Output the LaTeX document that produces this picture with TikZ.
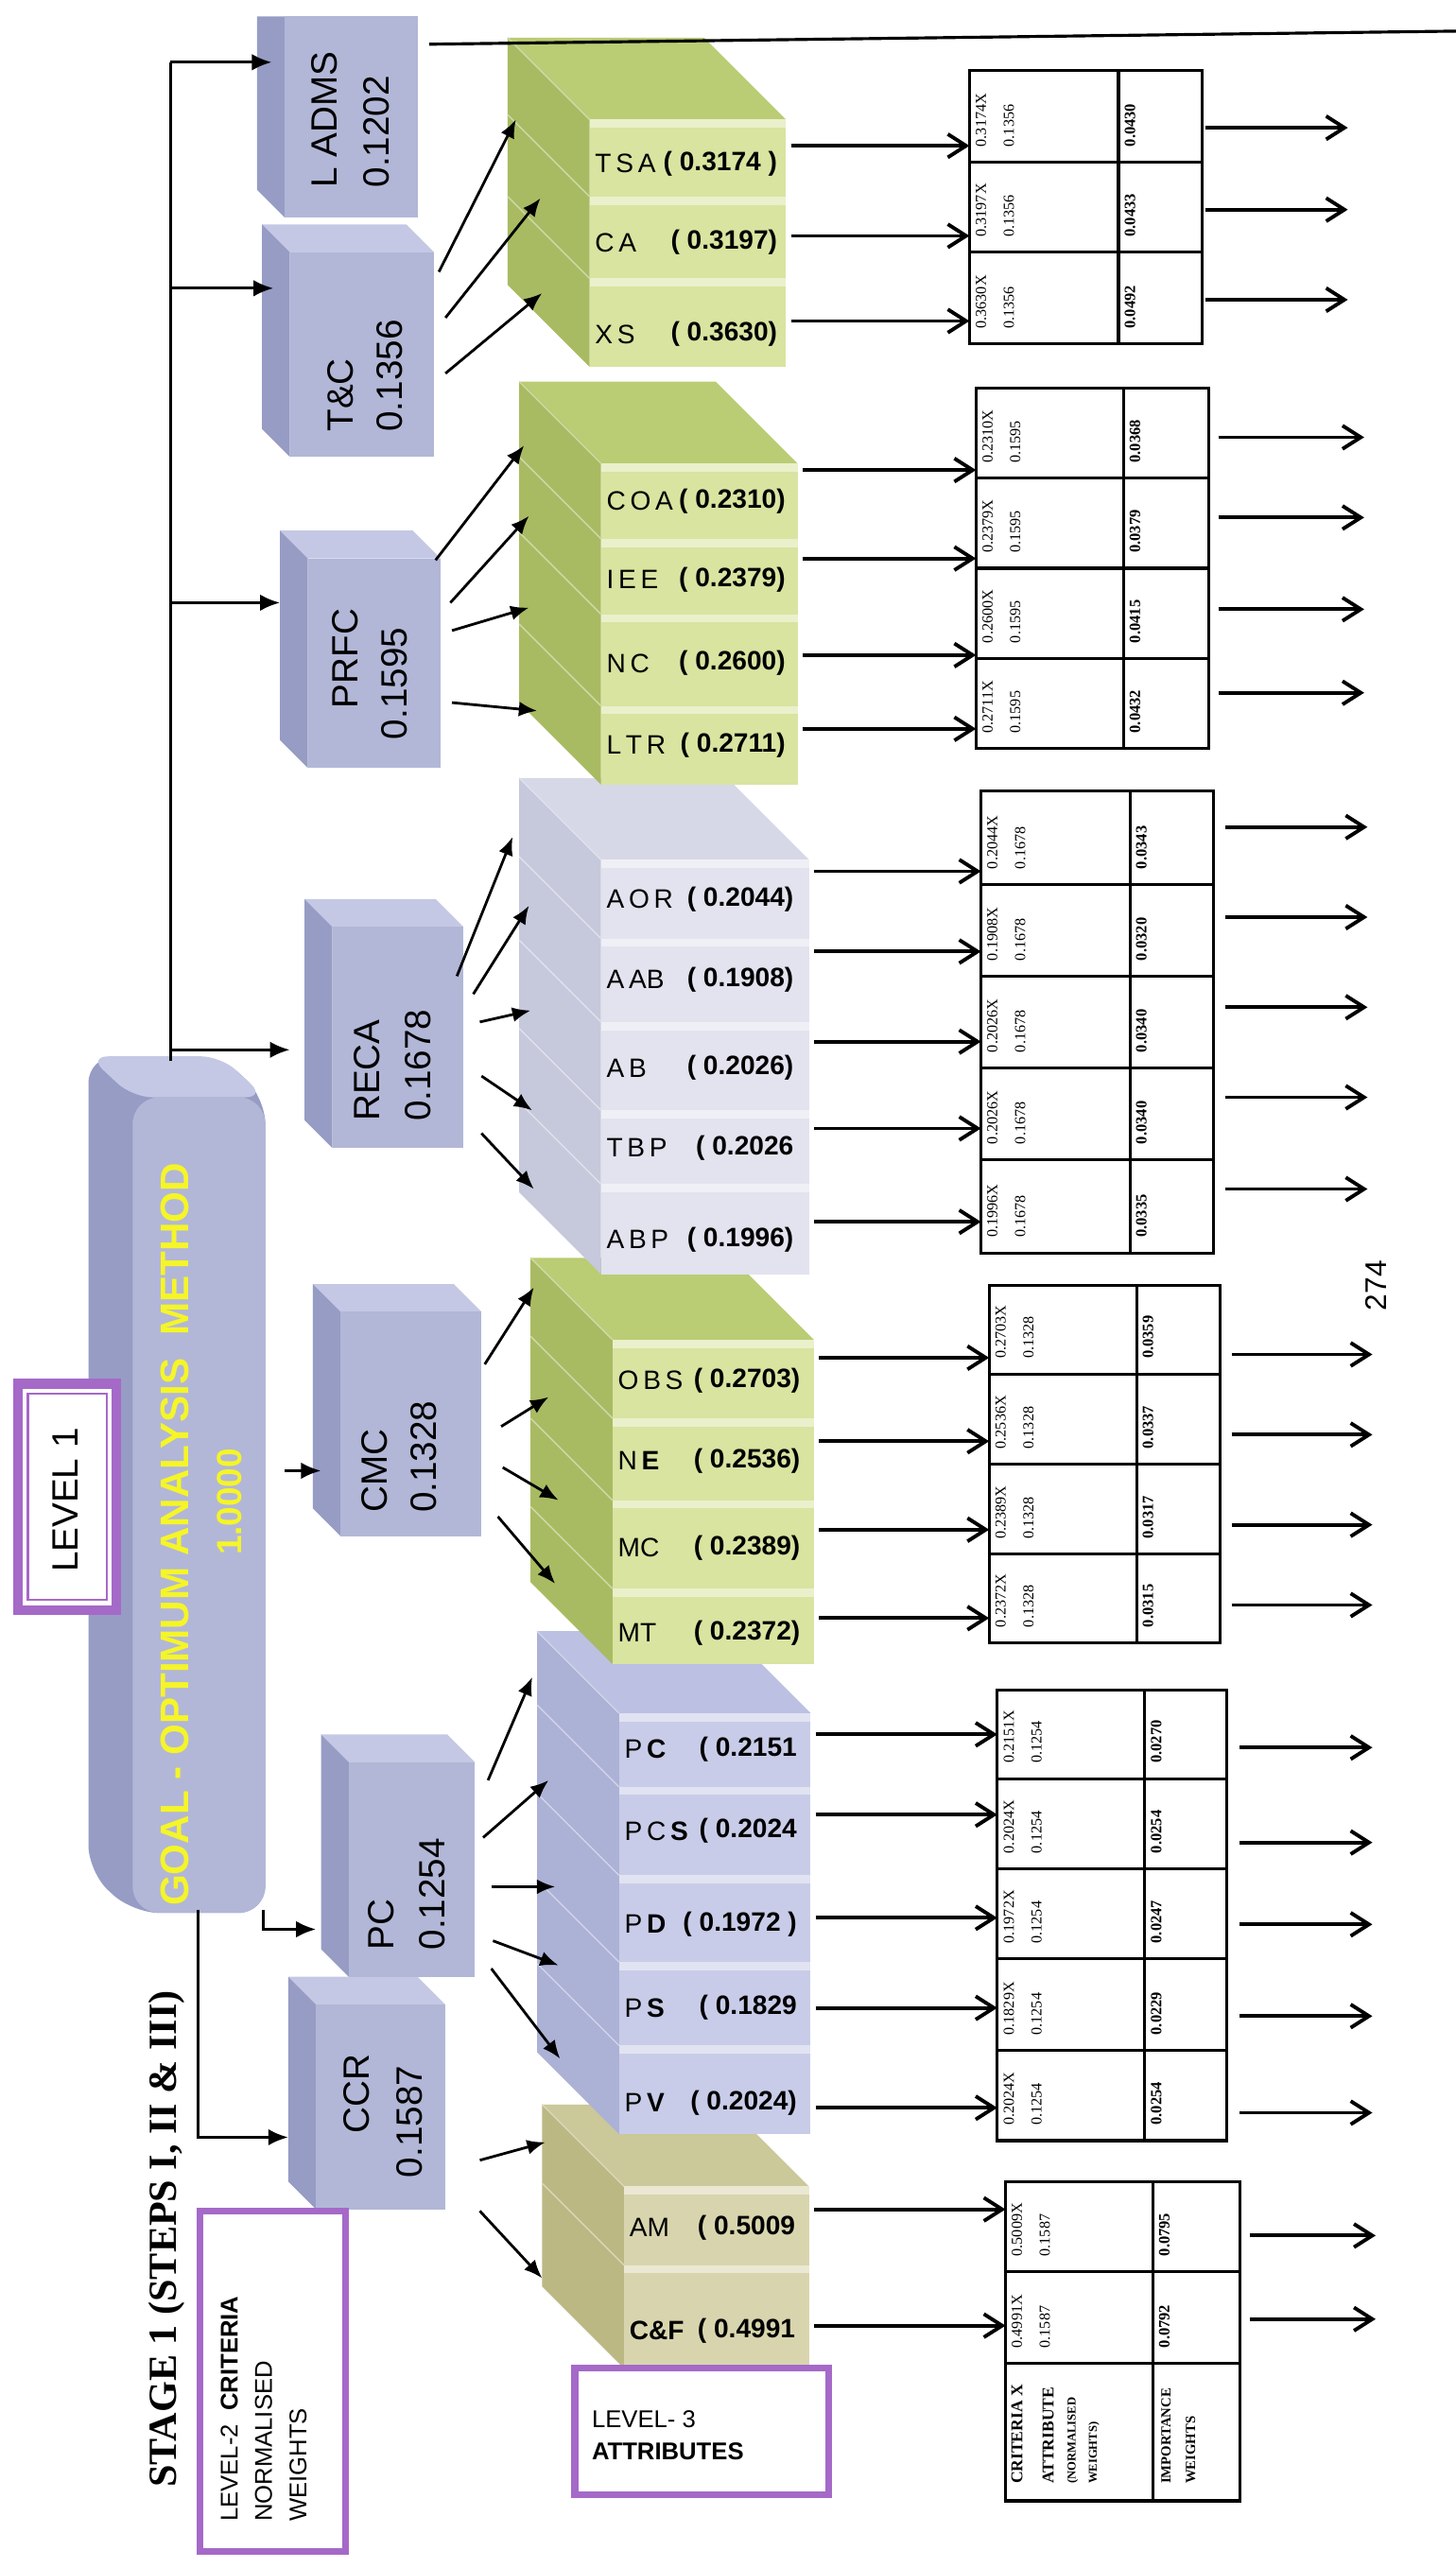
\documentclass[tikz,border=0pt]{standalone}
\usepackage{fontspec}
\setmainfont{Liberation Serif}
\newfontfamily\arial{Liberation Sans}
\usetikzlibrary{arrows.meta}
\definecolor{lvF}{RGB}{178,183,215}
\definecolor{lvS}{RGB}{150,156,196}
\definecolor{lvT}{RGB}{196,200,228}
\definecolor{grF}{RGB}{216,228,160}
\definecolor{grS}{RGB}{168,187,98}
\definecolor{grT}{RGB}{186,204,116}
\definecolor{rcF}{RGB}{226,227,239}
\definecolor{rcS}{RGB}{198,200,219}
\definecolor{rcT}{RGB}{214,216,231}
\definecolor{pcF}{RGB}{200,204,232}
\definecolor{pcS}{RGB}{172,177,214}
\definecolor{pcT}{RGB}{188,192,226}
\definecolor{khF}{RGB}{216,213,174}
\definecolor{khS}{RGB}{188,184,132}
\definecolor{khT}{RGB}{203,200,153}
\definecolor{legend}{RGB}{165,105,200}
\definecolor{goaltxt}{RGB}{245,245,40}
\newcommand{\myfs}[2]{\fontsize{#1}{#2}\selectfont}
% top face of a stack: xl xr yt colour
\newcommand{\mystacktop}[4]{%
  \fill[#4] (#1,#3) -- (#2,#3) -- ({#2-50},{#3-50}) -- ({#1-50},{#3-50}) -- cycle;}
% one slab: xl xr yt yb front side
\newcommand{\myslab}[6]{%
  \fill[#6] (#1,#3) -- (#1,#4) -- ({#1-50},{#4-50}) -- ({#1-50},{#3-50}) -- cycle;
  \draw[#6!55!white, line width=0.4pt] (#1,#3) -- ({#1-50},{#3-50});
  \fill[#5] (#1,#3) rectangle (#2,#4);
  \fill[#5!55!white] (#1,#3) rectangle (#2,{#3+5});}
% level-2 cube: x1 x2 y1 y2 (front face)
\newcommand{\lvcube}[4]{%
  \fill[lvT] (#1,#3) -- (#2,#3) -- ({#2-17},{#3-17}) -- ({#1-17},{#3-17}) -- cycle;
  \fill[lvS] (#1,#3) -- (#1,#4) -- ({#1-17},{#4-17}) -- ({#1-17},{#3-17}) -- cycle;
  \fill[lvF] (#1,#3) rectangle (#2,#4);}
% connector between named coordinates
\newcommand{\myconn}[4][la]{\coordinate (#4s) at (#2); \coordinate (#4e) at (#3); \draw[#1] (#4s) -- (#4e);}
% table frame: left right div top bottom
\newcommand{\mytab}[5]{\draw[tbl] (#1,#4) rectangle (#2,#5); \draw[tbl] (#3,#4) -- (#3,#5);}
% table row texts: name left div bottom a b c
\newcommand{\mycell}[7]{%
  \node[tc] (#1a) at ({#2+7},{#4-9}) {#5};
  \node[tc] (#1b) at ({#2+24},{#4-9}) {#6};
  \node[tcb] (#1c) at ({#3+7},{#4-9}) {#7};}
\begin{document}
\begin{tikzpicture}[x=0.017322cm,y=-0.017322cm,
  tbl/.style={line width=0.9pt},
  la/.style={line width=0.8pt,-{Latex[length=5.5pt,width=4.5pt]}},
  ta/.style={line width=0.9pt,-{Latex[length=6pt,width=5pt]}},
  oa/.style={line width=1.1pt,-{Straight Barb[length=5.5pt,width=7pt]}},
  l2lab/.style={rotate=90,anchor=west,inner sep=0pt,font=\arial\myfs{11}{13}},
  an/.style={anchor=west,inner sep=0pt,font=\arial\myfs{8}{9}},
  av/.style={anchor=east,inner sep=0pt,font=\arial\bfseries\myfs{8}{9}},
  tc/.style={rotate=90,anchor=west,inner sep=0pt,font=\myfs{4.6}{5}},
  tcb/.style={tc,font=\bfseries\myfs{4.7}{5}},
  lgd/.style={anchor=west,inner sep=0pt,font=\arial\myfs{7.3}{8}},
]
\fill[white] (0,0) rectangle (889,1568);
\useasboundingbox (0,0) rectangle (889,1568);

% ---------------- attribute stacks (bottom first) ----------------
% CCR stack
\mystacktop{381}{494}{1335}{khT}
\foreach \a/\b in {1335/1383,1383/1446} {\myslab{381}{494}{\a}{\b}{khF}{khS}}
% PC stack
\mystacktop{378}{495}{1046}{pcT}
\foreach \a/\b in {1046/1091,1091/1145,1145/1198,1198/1249,1249/1303} {\myslab{378}{495}{\a}{\b}{pcF}{pcS}}
% CMC stack
\mystacktop{374}{497}{818}{grT}
\foreach \a/\b in {818/866,866/916,916/970,970/1016} {\myslab{374}{497}{\a}{\b}{grF}{grS}}
% RECA stack
\mystacktop{367}{494}{525}{rcT}
\foreach \a/\b in {525/573,573/624,624/678,678/723,723/778} {\myslab{367}{494}{\a}{\b}{rcF}{rcS}}
% PRFC stack
\mystacktop{367}{487}{283}{grT}
\foreach \a/\b in {283/329,329/375,375/431,431/479} {\myslab{367}{487}{\a}{\b}{grF}{grS}}
% T&C stack
\mystacktop{360}{480}{73}{grT}
\foreach \a/\b in {73/120,120/170,170/224} {\myslab{360}{480}{\a}{\b}{grF}{grS}}

% attribute labels
\foreach \n/\v/\y [count=\i] in {T\,S\,A/{( 0.3174 )}/100, C\,A/{( 0.3197)}/148, X\,S/{( 0.3630)}/204}
  {\node[an] (s1n\i) at (363,\y) {\n}; \node[av] (s1v\i) at (475,\y) {\v};}
\foreach \n/\v/\y [count=\i] in {C\,O\,A/{( 0.2310)}/306, I\,E\,E/{( 0.2379)}/354, N\,C/{( 0.2600)}/405, L\,T\,R/{( 0.2711)}/455}
  {\node[an] (s2n\i) at (370,\y) {\n}; \node[av] (s2v\i) at (480,\y) {\v};}
\foreach \n/\v/\y [count=\i] in {A\,O\,R/{( 0.2044)}/549, A\,AB/{( 0.1908)}/598, A\,B/{( 0.2026)}/652, T\,B\,P/{( 0.2026}/701, A\,B\,P/{( 0.1996)}/757}
  {\node[an] (s3n\i) at (370,\y) {\n}; \node[av] (s3v\i) at (485,\y) {\v};}
\foreach \n/\v/\y [count=\i] in {O\,B\,S/{( 0.2703)}/843, {N\,\textbf{E}}/{( 0.2536)}/892, MC/{( 0.2389)}/945, MT/{( 0.2372)}/997}
  {\node[an] (s4n\i) at (377,\y) {\n}; \node[av] (s4v\i) at (489,\y) {\v};}
\foreach \n/\v/\y [count=\i] in {{P\,\textbf{C}}/{( 0.2151}/1068, {P\,C\,\textbf{S}}/{( 0.2024}/1118, {P\,\textbf{D}}/{( 0.1972 )}/1175, {P\,\textbf{S}}/{( 0.1829}/1226, {P\,\textbf{V}}/{( 0.2024)}/1284}
  {\node[an] (s5n\i) at (381,\y) {\n}; \node[av] (s5v\i) at (487,\y) {\v};}
\foreach \n/\v/\y [count=\i] in {AM/{( 0.5009}/1360, {\textbf{C\&F}}/{( 0.4991}/1423}
  {\node[an] (s6n\i) at (384,\y) {\n}; \node[av] (s6v\i) at (486,\y) {\v};}

% ---------------- goal box ----------------
\fill[lvS, rounded corners=8] (54,645) -- (135,645) -- (162,670) -- (162,1168) -- (81,1168) -- (54,1143) -- cycle;
\fill[lvT, rounded corners=6] (54,645) -- (135,645) -- (162,670) -- (81,670) -- cycle;
\fill[lvF, rounded corners=8] (81,670) rectangle (162,1168);
\node[rotate=90,inner sep=0pt,font=\arial\bfseries\myfs{12}{14},text=goaltxt] (goal) at (107,937) {GOAL - OPTIMUM ANALYSIS\ \ METHOD};
\node[rotate=90,inner sep=0pt,font=\arial\bfseries\myfs{10.5}{12},text=goaltxt] (goalv) at (140,917) {1.0000};

% LEVEL 1 box
\fill[legend] (8,842) rectangle (74,986);
\fill[white] (14,848) rectangle (68,980);
\draw[legend, line width=0.6pt] (17,851) rectangle (65,977);
\node[rotate=90,inner sep=0pt,font=\arial\myfs{11}{12}] (lv1) at (40,916) {LEVEL 1};

% ---------------- level-2 cubes ----------------
\fill[lvS] (174,10) -- (174,133) -- (157,116) -- (157,10) -- cycle;
\fill[lvF] (174,10) rectangle (255,133);
\lvcube{177}{265}{154}{279}
\lvcube{188}{269}{341}{469}
\lvcube{203}{283}{566}{701}
\lvcube{208}{294}{801}{938}
\lvcube{193}{272}{1224}{1349}
\lvcube{213}{290}{1076}{1207}

\node[l2lab] (ladmsA) at (198,115) {L ADMS};
\node[l2lab] (ladmsB) at (230,115) {0.1202};
\node[l2lab] (tcA) at (208,264) {T\&C};
\node[l2lab] (tcB) at (238,264) {0.1356};
\node[l2lab] (prfcA) at (211,433) {PRFC};
\node[l2lab] (prfcB) at (241,452) {0.1595};
\node[l2lab] (recaA) at (224,685) {RECA};
\node[l2lab] (recaB) at (255,685) {0.1678};
\node[l2lab] (cmcA) at (229,924) {CMC};
\node[l2lab] (cmcB) at (259,924) {0.1328};
\node[l2lab] (pcA) at (233,1191) {PC};
\node[l2lab] (pcB) at (264,1191) {0.1254};
\node[l2lab] (ccrA) at (218,1303) {CCR};
\node[l2lab] (ccrB) at (250,1330) {0.1587};

% ---------------- trunk connectors ----------------
\coordinate (trT) at (104,38);
\coordinate (trB) at (104,648);
\draw[line width=0.9pt] (trB) -- (trT);
\myconn[ta]{104,38}{166,38}{tra}
\myconn[ta]{104,176}{167,176}{trb}
\myconn[ta]{104,368}{171,368}{trc}
\myconn[ta]{104,641}{177,641}{trd}
\myconn[ta]{174,898}{196,898}{cmcin}
\coordinate (pcL1) at (161,1166); \coordinate (pcL2) at (161,1178); \coordinate (pcL3) at (193,1178);
\draw[ta] (pcL1) -- (pcL2) -- (pcL3);
\coordinate (ccL1) at (121,1166); \coordinate (ccL2) at (121,1305); \coordinate (ccL3) at (176,1305);
\draw[ta] (ccL1) -- (ccL2) -- (ccL3);
\coordinate (ladmsR) at (262,27); \coordinate (edgeR) at (889,19);
\draw[line width=0.9pt] (ladmsR) -- (edgeR);

% ---------------- level-2 -> attribute arrows ----------------
\myconn{268,166}{315,73}{tc1}
\myconn{272,194}{330,121}{tc2}
\myconn{272,228}{331,179}{tc3}
\myconn{266,342}{320,272}{pr1}
\myconn{275,368}{323,315}{pr2}
\myconn{276,385}{323,371}{pr3}
\myconn{276,429}{328,434}{pr4}
\myconn{279,596}{313,511}{re1}
\myconn{289,607}{323,553}{re2}
\myconn{293,624}{324,617}{re3}
\myconn{294,657}{325,678}{re4}
\myconn{294,692}{326,726}{re5}
\myconn{296,833}{326,786}{cm1}
\myconn{306,871}{335,853}{cm2}
\myconn{307,896}{341,916}{cm3}
\myconn{304,926}{339,967}{cm4}
\myconn{298,1087}{325,1024}{pc1}
\myconn{295,1122}{335,1087}{pc2}
\myconn{300,1152}{339,1152}{pc3}
\myconn{301,1185}{341,1200}{pc4}
\myconn{300,1202}{342,1257}{pc5}
\myconn{293,1319}{333,1308}{cc1}
\myconn{293,1350}{331,1391}{cc2}

% ---------------- attribute -> table arrows ----------------
\foreach \y [count=\i] in {89,144,196} {\myconn[oa]{483,\y}{592,\y}{ia\i}}
\foreach \y [count=\i] in {287,341,400,445} {\myconn[oa]{490,\y}{596,\y}{ib\i}}
\foreach \y [count=\i] in {532,581,636,689,746} {\myconn[oa]{497,\y}{599,\y}{ic\i}}
\foreach \y [count=\i] in {829,880,934,988} {\myconn[oa]{500,\y}{604,\y}{id\i}}
\foreach \y [count=\i] in {1059,1108,1171,1226,1287} {\myconn[oa]{498,\y}{609,\y}{ie\i}}
\foreach \y [count=\i] in {1349,1420} {\myconn[oa]{497,\y}{614,\y}{if\i}}

% ---------------- tables ----------------
\mytab{592}{734}{683}{43}{210}
\foreach \y in {99,154} {\draw[tbl] (592,\y) -- (734,\y);}
\foreach \yb/\a/\b/\c in {99/0.3174X/0.1356/0.0430, 154/0.3197X/0.1356/0.0433, 210/0.3630X/0.1356/0.0492}
  {\mycell{ta\yb}{592}{683}{\yb}{\a}{\b}{\c}}
\mytab{596}{738}{686}{237}{457}
\foreach \y in {292,347,402} {\draw[tbl] (596,\y) -- (738,\y);}
\foreach \yb/\a/\b/\c in {292/0.2310X/0.1595/0.0368, 347/0.2379X/0.1595/0.0379, 402/0.2600X/0.1595/0.0415, 457/0.2711X/0.1595/0.0432}
  {\mycell{tb\yb}{596}{686}{\yb}{\a}{\b}{\c}}
\mytab{599}{741}{690}{483}{765}
\foreach \y in {540,596,652,708} {\draw[tbl] (599,\y) -- (741,\y);}
\foreach \yb/\a/\b/\c in {540/0.2044X/0.1678/0.0343, 596/0.1908X/0.1678/0.0320, 652/0.2026X/0.1678/0.0340, 708/0.2026X/0.1678/0.0340, 765/0.1996X/0.1678/0.0335}
  {\mycell{tc\yb}{599}{690}{\yb}{\a}{\b}{\c}}
\mytab{604}{745}{694}{785}{1003}
\foreach \y in {839,894,949} {\draw[tbl] (604,\y) -- (745,\y);}
\foreach \yb/\a/\b/\c in {839/0.2703X/0.1328/0.0359, 894/0.2536X/0.1328/0.0337, 949/0.2389X/0.1328/0.0317, 1003/0.2372X/0.1328/0.0315}
  {\mycell{td\yb}{604}{694}{\yb}{\a}{\b}{\c}}
\mytab{609}{749}{699}{1032}{1307}
\foreach \y in {1086,1141,1196,1252} {\draw[tbl] (609,\y) -- (749,\y);}
\foreach \yb/\a/\b/\c in {1086/0.2151X/0.1254/0.0270, 1141/0.2024X/0.1254/0.0254, 1196/0.1972X/0.1254/0.0247, 1252/0.1829X/0.1254/0.0229, 1307/0.2024X/0.1254/0.0254}
  {\mycell{te\yb}{609}{699}{\yb}{\a}{\b}{\c}}
\mytab{614}{757}{704}{1332}{1527}
\foreach \y in {1387,1443} {\draw[tbl] (614,\y) -- (757,\y);}
\foreach \yb/\a/\b/\c in {1387/0.5009X/0.1587/0.0795, 1443/0.4991X/0.1587/0.0792}
  {\mycell{tf\yb}{614}{704}{\yb}{\a}{\b}{\c}}
\node[tcb,font=\bfseries\myfs{5}{6}] (hA) at (621,1517) {CRITERIA X};
\node[tcb,font=\bfseries\myfs{5}{6}] (hB) at (640,1517) {ATTRIBUTE};
\node[tc,font=\bfseries\myfs{3.6}{4}] (hC) at (655,1517) {(NORMALISED};
\node[tc,font=\bfseries\myfs{3.6}{4}] (hD) at (668,1517) {WEIGHTS)};
\node[tcb,font=\bfseries\myfs{4.2}{5}] (hE) at (712,1517) {IMPORTANCE};
\node[tcb,font=\bfseries\myfs{4.2}{5}] (hF) at (727,1517) {WEIGHTS};

% ---------------- output arrows ----------------
\foreach \y [count=\i] in {78,128,183} {\myconn[oa]{736,\y}{823,\y}{oa\i}}
\foreach \y [count=\i] in {267,316,372,423} {\myconn[oa]{744,\y}{833,\y}{ob\i}}
\foreach \y [count=\i] in {505,560,615,670,726} {\myconn[oa]{748,\y}{835,\y}{oc\i}}
\foreach \y [count=\i] in {827,876,931,980} {\myconn[oa]{752,\y}{838,\y}{od\i}}
\foreach \y [count=\i] in {1067,1125,1175,1231,1290} {\myconn[oa]{757,\y}{838,\y}{oe\i}}
\foreach \y [count=\i] in {1365,1416} {\myconn[oa]{763,\y}{840,\y}{of\i}}

% ---------------- legends and titles ----------------
\draw[legend, line width=2pt] (122,1350) rectangle (211,1558);
\node[lgd,rotate=90] (lv2a) at (140,1540) {LEVEL-2 \ \textbf{CRITERIA}};
\node[lgd,rotate=90] (lv2b) at (161,1540) {NORMALISED};
\node[lgd,rotate=90] (lv2c) at (182,1540) {WEIGHTS};
\draw[legend, line width=2pt] (351,1446) rectangle (506,1523);
\node[lgd] (lv3a) at (361,1477) {LEVEL- 3};
\node[lgd] (lv3b) at (361,1497) {\textbf{ATTRIBUTES}};
\node[rotate=90,inner sep=0pt,font=\bfseries\myfs{12}{14}] (stage) at (102,1367) {STAGE 1 (STEPS I, II \& III)};
\node[rotate=90,inner sep=0pt,font=\arial\myfs{9}{10}] (pgno) at (840,785) {274};
\end{tikzpicture}
\end{document}
